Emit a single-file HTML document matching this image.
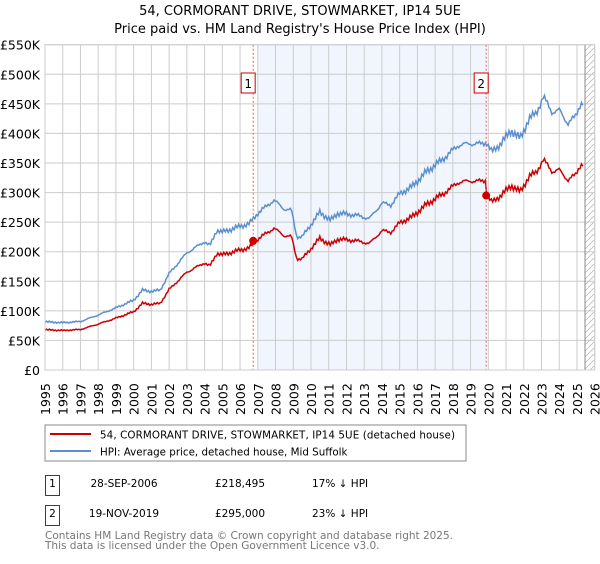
<!DOCTYPE html>
<html><head><meta charset="utf-8"><style>
body{margin:0;background:#fff;width:600px;height:560px;overflow:hidden;font-family:"DejaVu Sans",sans-serif;}
svg text{font-family:"DejaVu Sans",sans-serif;}
</style></head><body>
<svg id="s" width="600" height="560" xmlns="http://www.w3.org/2000/svg">
<defs><pattern id="h" width="6" height="6" patternUnits="userSpaceOnUse"><path d="M0,6 L6,0" stroke="#bbb" stroke-width="0.8"/></pattern></defs>
<text x="300" y="15" text-anchor="middle" font-size="13">54, CORMORANT DRIVE, STOWMARKET, IP14 5UE</text>
<text x="300" y="33" text-anchor="middle" font-size="13">Price paid vs. HM Land Registry's House Price Index (HPI)</text>
<g id="g"></g>
<rect x="45" y="425" width="421" height="36" fill="#fff" stroke="#888" stroke-width="1"/>
<line x1="50" y1="434" x2="91" y2="434" stroke="#cc0000" stroke-width="2"/>
<line x1="50" y1="451" x2="91" y2="451" stroke="#5b8fd0" stroke-width="2"/>
<text x="100" y="438.5" font-size="10.3" textLength="355">54, CORMORANT DRIVE, STOWMARKET, IP14 5UE (detached house)</text>
<text x="100" y="455.5" font-size="10.3">HPI: Average price, detached house, Mid Suffolk</text>
<rect x="45.5" y="475.5" width="14" height="20" fill="#fff" stroke="#cc0000"/>
<text x="52.5" y="487" font-size="10.5" text-anchor="middle">1</text>
<text x="124" y="487" font-size="10.5" text-anchor="middle">28-SEP-2006</text>
<text x="240" y="487" font-size="10.5" text-anchor="middle">£218,495</text>
<text x="312" y="487" font-size="10.5">17% ↓ HPI</text>
<rect x="45.5" y="505.5" width="14" height="20" fill="#fff" stroke="#cc0000"/>
<text x="52.5" y="517" font-size="10.5" text-anchor="middle">2</text>
<text x="124" y="517" font-size="10.5" text-anchor="middle">19-NOV-2019</text>
<text x="240" y="517" font-size="10.5" text-anchor="middle">£295,000</text>
<text x="312" y="517" font-size="10.5">23% ↓ HPI</text>
<text x="45" y="539" font-size="10.5" fill="#777" textLength="408">Contains HM Land Registry data © Crown copyright and database right 2025.</text>
<text x="45" y="549" font-size="10.5" fill="#777">This data is licensed under the Open Government Licence v3.0.</text>
</svg>
<script>
var L=45,R=594.7,T=44.7,B=370,ppy=(R-L)/31,ppk=(B-T)/550;
function X(y){return L+(y-1995)*ppy;}function Y(v){return B-v*ppk;}
var o='';
o+='<rect x="258" y="'+T+'" width="'+(X(2019.88)-258)+'" height="'+(B-T)+'" fill="#f1f5fd"/>';
o+='<rect x="585" y="'+T+'" width="'+(R-585)+'" height="'+(B-T)+'" fill="url(#h)"/>';
for(var k=0;k<=550;k+=50){o+='<line x1="'+L+'" x2="'+R+'" y1="'+Y(k)+'" y2="'+Y(k)+'" stroke="#ccc"/>';
o+='<text x="40" y="'+(Y(k)+5)+'" font-size="12.5" text-anchor="end">'+(k==0?'£0':'£'+k+'K')+'</text>';}
for(var y=1995;y<=2026;y++){var x=X(y);o+='<line x1="'+x+'" x2="'+x+'" y1="'+T+'" y2="'+B+'" stroke="#ccc"/>';
o+='<text transform="translate('+(x+5)+',415) rotate(-90)" font-size="12.5">'+y+'</text>';}
o+='<line x1="585" x2="585" y1="'+T+'" y2="'+B+'" stroke="#888"/>';
var K=[[1995,81.6],[1996,80],[1997,82],[1998,93],[1999,105],[2000,118],[2000.5,135],[2001,133],[2001.5,135],[2002,163],[2003,198],[2004,217],[2004.3,210],[2004.7,237],[2005,233],[2006,243],[2006.5,247],[2007,265],[2007.9,287],[2008.5,272],[2008.9,270],[2009.2,225],[2009.5,225],[2010.5,267],[2011.1,253],[2011.5,265],[2012.5,262],[2013.3,256],[2014,282],[2014.5,279],[2015,298],[2015.7,310],[2016.5,335],[2017.5,358],[2018.3,380],[2019,383],[2019.5,382],[2019.9,385],[2020.2,368],[2020.7,383],[2021.3,405],[2021.8,391],[2022.3,425],[2022.7,434],[2023.1,462],[2023.6,436],[2024,439],[2024.5,417],[2024.9,428],[2025.2,451],[2025.4,451]];
function hp(t){for(var i=0;i<K.length-1;i++){if(t<=K[i+1][0]){var f=(t-K[i][0])/(K[i+1][0]-K[i][0]);return K[i][1]+f*(K[i+1][1]-K[i][1]);}}return K[K.length-1][1];}
var pb='',pr='';
for(var t=1995;t<=2025.4;t+=1/12){var n=1+0.012*Math.sin(t*37.1)+0.008*Math.sin(t*83.7);var h=hp(t)*n;
var r=t<2019.88?h*0.835:h*0.77;
pb+=(pb?'L':'M')+X(t).toFixed(1)+','+Y(h).toFixed(1);pr+=(pr?'L':'M')+X(t).toFixed(1)+','+Y(r).toFixed(1);}
o+='<path d="'+pb+'" fill="none" stroke="#5b8fd0" stroke-width="1.5"/>';
o+='<path d="'+pr+'" fill="none" stroke="#cc0000" stroke-width="1.5"/>';
[[2006.74,218.5,'1'],[2019.88,295,'2']].forEach(function(s){var x=X(s[0]);
o+='<line x1="'+x+'" x2="'+x+'" y1="'+T+'" y2="'+B+'" stroke="#e06060" stroke-dasharray="2,2"/>';
o+='<circle cx="'+x+'" cy="'+Y(s[1])+'" r="4" fill="#cc0000"/>';
o+='<rect x="'+(x-12)+'" y="73" width="14" height="20" fill="#fff" stroke="#cc0000"/>';
o+='<text x="'+(x-5)+'" y="88" font-size="12" text-anchor="middle">'+s[2]+'</text>';});
o+='<rect x="'+L+'" y="'+T+'" width="'+(R-L)+'" height="'+(B-T)+'" fill="none" stroke="#ccc"/>';
document.getElementById('g').innerHTML=o;
</script>
</body></html>
